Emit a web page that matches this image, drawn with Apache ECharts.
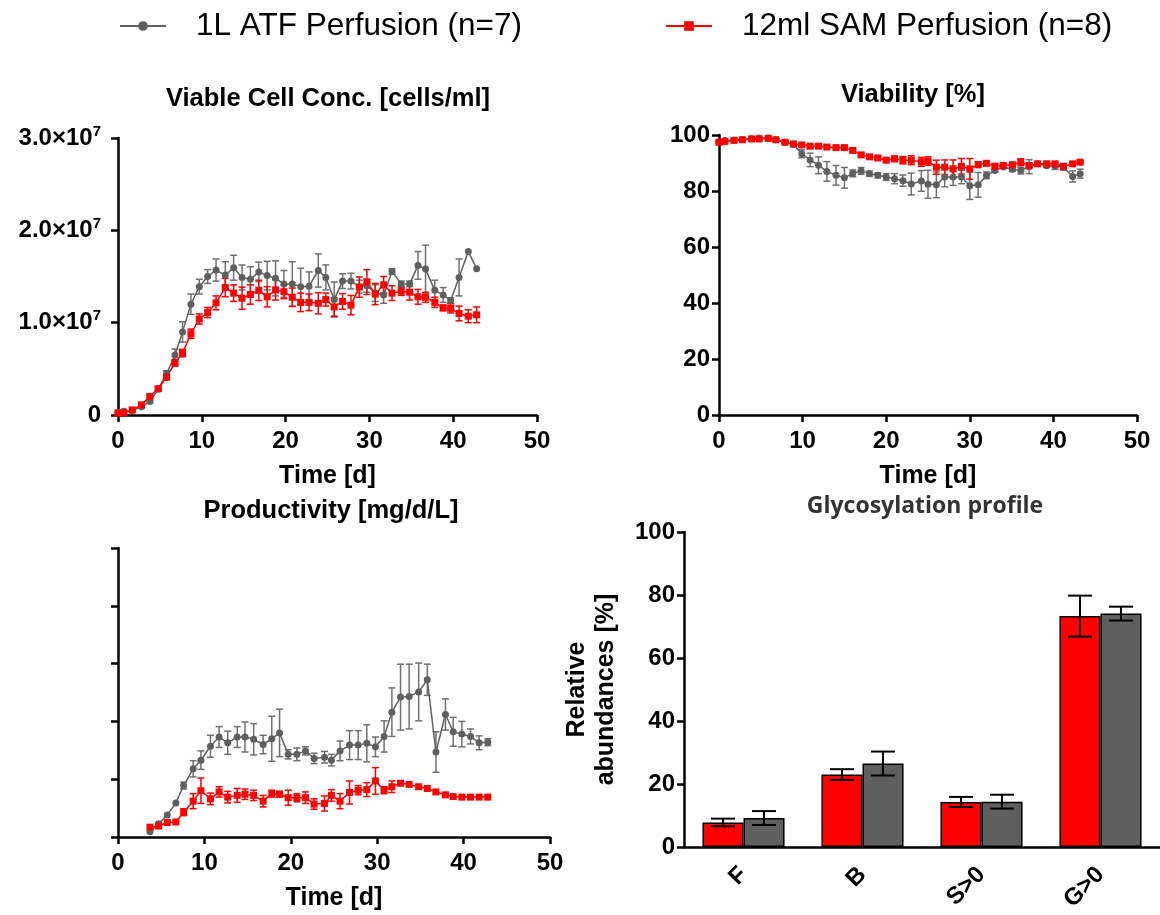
<!DOCTYPE html>
<html lang="en">
<head>
    <meta charset="UTF-8">
    <title>Perfusion comparison</title>
    <script type="text/javascript" src="https://cdn.jsdelivr.net/npm/echarts@6/dist/echarts.min.js"></script>
    <style>
        body { margin: 0; background: #fff; }
    </style>
</head>
<body>
<div id="chartmain" style="width:1160px;height:915px"></div>
<script>
    var nameAtf = '1L ATF Perfusion (n=7)';
    var nameSam = '12ml SAM Perfusion (n=8)';

    // viable cell conc., in 10^6 cells/ml
    var vccDays = [0, 0.7, 1.7, 2.8, 3.8, 4.8, 5.8, 6.8, 7.7, 8.7, 9.7, 10.7, 11.7, 12.8, 13.8, 14.8, 15.8, 16.8, 17.8, 18.8,
        19.8, 20.8, 21.8, 22.8, 23.9, 24.8, 25.8, 26.8, 27.8, 28.8, 29.7, 30.7, 31.7, 32.7, 33.8, 34.8, 35.8, 36.7, 37.8, 38.8,
        39.7, 40.7, 41.8, 42.8];
    var vccAtf = [0.3, 0.4, 0.5, 0.9, 1.45, 2.8, 4.5, 6.5, 9.0, 12.0, 13.9, 15.0, 15.7, 15.15, 15.95, 14.9, 14.7, 15.5, 15.1, 14.8,
        14.2, 14.2, 13.9, 13.95, 15.65, 14.9, 12.5, 14.5, 14.5, 13.9, 14.0, 13.2, 13.0, 15.55, 14.2, 14.2, 16.2, 15.8, 13.5, 13.0,
        12.4, 14.9, 17.7, 15.85];
    var vccAtfSd = [0, 0, 0, 0.1, 0.15, 0.2, 0.3, 0.65, 1.1, 1.1, 0.8, 0.75, 1.2, 1.45, 1.35, 1.35, 1.35, 1.05, 1.55, 1.9,
        1.45, 2.4, 2.0, 1.55, 1.8, 1.35, 1.9, 0.8, 0.85, 0.7, 0.7, 0.9, 0.9, 0.3, 0.3, 0.3, 1.5, 2.6, 1.1, 0.8,
        0.3, 2.0, 0, 0];
    var vccSam = [0.2, 0.25, 0.55, 1.1, 2.0, 2.85, 4.1, 5.65, 6.7, 8.8, 10.4, 11.1, 12.15, 13.8, 13.2, 12.65, 13.05, 13.5, 12.8, 13.55,
        13.35, 12.75, 12.2, 12.2, 12.1, 12.5, 11.7, 12.3, 11.9, 13.85, 14.4, 13.1, 14.1, 13.2, 13.4, 13.3, 12.8, 12.75, 12.2, 11.6,
        11.55, 11.0, 10.7, 10.85];
    var vccSamSd = [0, 0, 0, 0.1, 0.15, 0.2, 0.3, 0.35, 0.4, 0.5, 0.55, 0.55, 0.75, 1.0, 0.9, 1.2, 1.05, 1.1, 1.1, 1.1,
        0.75, 1.0, 1.0, 0.9, 1.15, 0.7, 1.0, 0.85, 1.05, 1.1, 1.35, 1.15, 0.9, 0.8, 0.45, 0.85, 0.8, 0.55, 0.55, 0.3,
        0.5, 0.8, 0.7, 0.85];

    // viability, %
    var viaDays = [0, 0.7, 1.8, 2.8, 3.9, 4.8, 5.9, 6.8, 7.9, 8.9, 9.9, 10.9, 11.9, 12.9, 14, 15, 16, 17, 18, 19,
        20, 21, 22, 23, 24.2, 25, 26, 27, 28, 29, 30, 31, 32, 33, 34, 35.1, 36.1, 37.1, 38.1, 39.2,
        40.2, 41.2, 42.3, 43.2];
    var viaAtf = [97.5, 98.0, 98.1, 98.4, 98.7, 98.9, 98.9, 98.3, 97.4, 96.6, 93.3, 91.1, 89.2, 87.0, 85.6, 84.7, 86.3, 87.2, 86.2, 85.6,
        85.0, 84.4, 83.7, 82.5, 83.6, 82.4, 82.2, 85.0, 85.0, 85.0, 81.9, 82.2, 85.6, 87.3, 88.6, 87.8, 87.3, 88.7, 89.7, 89.0,
        88.9, 88.6, 85.2, 86.2];
    var viaAtfSd = [0.3, 0.3, 0.3, 0.3, 0.3, 0.3, 0.3, 0.3, 0.3, 0.5, 1.4, 2.4, 3.0, 3.5, 3.5, 3.7, 1.2, 1.2, 0.9, 0.9,
        1.2, 1.8, 2.0, 3.9, 3.7, 5.0, 4.6, 3.5, 3.0, 2.4, 4.9, 4.4, 1.2, 0.5, 0.5, 0.8, 1.2, 2.5, 0.7, 0.5,
        1.2, 1.2, 2.0, 1.6];
    var viaSam = [97.4, 97.7, 98.1, 98.3, 98.6, 98.6, 98.8, 98.3, 97.4, 96.8, 96.45, 96.0, 96.0, 95.7, 95.5, 95.5, 94.5, 92.9, 92.2, 91.8,
        91.0, 91.5, 91.0, 91.0, 90.4, 90.7, 88.5, 88.5, 87.9, 88.8, 87.9, 89.4, 89.9, 88.8, 89.1, 89.4, 90.3, 89.1, 89.7, 89.7,
        89.7, 88.8, 89.7, 90.3];
    var viaSamSd = [0.3, 0.3, 0.3, 0.3, 0.3, 0.3, 0.3, 0.3, 0.3, 0.3, 0.5, 0.5, 0.5, 0.5, 0.5, 0.5, 0.5, 0.6, 0.6, 0.6,
        0.6, 1.0, 1.3, 1.6, 1.6, 1.5, 2.5, 2.6, 3.2, 2.8, 3.7, 1.0, 0.8, 1.0, 0.6, 0.6, 1.2, 0.5, 0.4, 0.8,
        0.5, 0.4, 0.3, 0.3];

    // productivity (axis has no tick labels, one unit per tick)
    var prodDays = [3.7, 4.7, 5.7, 6.7, 7.6, 8.7, 9.6, 10.7, 11.7, 12.7, 13.8, 14.7, 15.7, 16.8, 17.8, 18.7, 19.7, 20.7, 21.7, 22.7,
        23.9, 24.7, 25.7, 26.8, 27.8, 28.8, 29.8, 30.8, 31.7, 32.7, 33.7, 34.8, 35.8, 36.8, 37.9, 38.8, 39.8, 40.8, 41.8, 42.8];
    var prodAtf = [0.09, 0.23, 0.38, 0.59, 0.89, 1.18, 1.33, 1.57, 1.73, 1.63, 1.73, 1.73, 1.69, 1.60, 1.70, 1.80, 1.43, 1.43, 1.49, 1.36,
        1.38, 1.33, 1.49, 1.59, 1.59, 1.62, 1.56, 1.74, 2.16, 2.42, 2.43, 2.51, 2.72, 1.47, 2.12, 1.82, 1.78, 1.74, 1.63, 1.64];
    var prodAtfSd = [0, 0, 0, 0, 0.06, 0.14, 0.16, 0.19, 0.18, 0.2, 0.18, 0.26, 0.27, 0.16, 0.39, 0.41, 0.08, 0.11, 0.07, 0.09,
        0.1, 0.1, 0.17, 0.25, 0.25, 0.32, 0.17, 0.27, 0.42, 0.57, 0.56, 0.5, 0.27, 0.35, 0.27, 0.25, 0.22, 0.13, 0.12, 0.06];
    var prodSam = [0.17, 0.19, 0.25, 0.26, 0.43, 0.62, 0.80, 0.66, 0.78, 0.69, 0.72, 0.74, 0.72, 0.62, 0.75, 0.74, 0.68, 0.68, 0.68, 0.57,
        0.58, 0.72, 0.62, 0.77, 0.81, 0.82, 0.97, 0.81, 0.87, 0.93, 0.91, 0.87, 0.84, 0.78, 0.73, 0.70, 0.69, 0.69, 0.69, 0.69];
    var prodSamSd = [0, 0, 0, 0, 0.06, 0.13, 0.22, 0.1, 0.09, 0.1, 0.12, 0.09, 0.09, 0.1, 0.06, 0.05, 0.13, 0.07, 0.1, 0.09,
        0.13, 0.1, 0.13, 0.2, 0.08, 0.12, 0.23, 0.06, 0.1, 0.03, 0, 0, 0, 0, 0, 0, 0, 0, 0, 0];

    // glycosylation profile, %
    var glycoCats = ['F', 'B', 'S>0', 'G>0'];
    var glycoSam = [7.8, 23.0, 14.3, 73.3];
    var glycoSamSd = [1.2, 1.7, 1.6, 6.5];
    var glycoAtf = [9.2, 26.5, 14.4, 74.1];
    var glycoAtfSd = [2.2, 3.8, 2.2, 2.2];

    var grey = '#5f5f5f';
    var red = '#ff0000';
    var font = 'Liberation Sans, Arial, sans-serif';

    function pairs(xs, ys) {
        return xs.map(function (x, i) { return [x, ys[i]]; });
    }
    function triples(xs, ys, es) {
        return xs.map(function (x, i) { return [x, ys[i], es[i]]; });
    }

    function errBars(color, cap) {
        return function (params, api) {
            var x = api.value(0), y = api.value(1), e = api.value(2);
            if (!e) return null;
            var hi = api.coord([x, y + e]);
            var lo = api.coord([x, y - e]);
            var st = {stroke: color, lineWidth: 1.5};
            return {
                type: 'group',
                children: [
                    {type: 'line', shape: {x1: hi[0], y1: hi[1], x2: lo[0], y2: lo[1]}, style: st},
                    {type: 'line', shape: {x1: hi[0] - cap, y1: hi[1], x2: hi[0] + cap, y2: hi[1]}, style: st},
                    {type: 'line', shape: {x1: lo[0] - cap, y1: lo[1], x2: lo[0] + cap, y2: lo[1]}, style: st}
                ]
            };
        };
    }

    function barErr(side) {
        return function (params, api) {
            var c = api.value(0), y = api.value(1), e = api.value(2);
            var band = api.size([1, 0])[0];
            var hi = api.coord([c, y + e]);
            var lo = api.coord([c, y - e]);
            var x = hi[0] + side * band * 0.172;
            var cap = 12;
            var st = {stroke: '#000', lineWidth: 2};
            return {
                type: 'group',
                children: [
                    {type: 'line', shape: {x1: x, y1: hi[1], x2: x, y2: lo[1]}, style: st},
                    {type: 'line', shape: {x1: x - cap, y1: hi[1], x2: x + cap, y2: hi[1]}, style: st},
                    {type: 'line', shape: {x1: x - cap, y1: lo[1], x2: x + cap, y2: lo[1]}, style: st}
                ]
            };
        };
    }

    var axisLine = {lineStyle: {color: '#000', width: 2.5}};
    var axisTick = {length: 7, lineStyle: {color: '#000', width: 2.5}};
    var tickFont = {color: '#000', fontFamily: font, fontWeight: 'bold', fontSize: 24};
    var nameFont = {color: '#000', fontFamily: font, fontWeight: 'bold', fontSize: 25};
    var titleFont = {fontFamily: font, fontWeight: 'bold', fontSize: 25.5, color: '#000'};

    function timeAxis(grid) {
        return {
            gridIndex: grid, type: 'value', min: 0, max: 50, interval: 10,
            axisLine: axisLine, axisTick: axisTick, splitLine: {show: false},
            axisLabel: Object.assign({margin: 14}, tickFont),
            name: 'Time [d]', nameLocation: 'middle', nameGap: 49, nameTextStyle: nameFont
        };
    }

    function lineSeries(name, symbol, color, data, xi) {
        return {
            name: name, type: 'line', xAxisIndex: xi, yAxisIndex: xi, data: data,
            symbol: symbol, symbolSize: 7, z: 3,
            lineStyle: {color: color, width: 1.5}, itemStyle: {color: color}
        };
    }
    function errSeries(color, data, xi) {
        return {
            type: 'custom', xAxisIndex: xi, yAxisIndex: xi, data: data, z: 2,
            encode: {x: 0, y: 1}, renderItem: errBars(color, 3.5), silent: true
        };
    }

    var option = {
        animation: false,
        legend: [
            {
                data: [nameAtf], left: 114, top: 5, itemWidth: 46, itemHeight: 12,
                textStyle: {fontFamily: font, fontSize: 31.5, color: '#000', padding: [0, 0, 0, 25]}
            },
            {
                data: [nameSam], left: 660, top: 5, itemWidth: 46, itemHeight: 12,
                textStyle: {fontFamily: font, fontSize: 31.5, color: '#000', padding: [0, 0, 0, 25]}
            }
        ],
        title: [
            {text: 'Viable Cell Conc. [cells/ml]', left: 323, top: 81, textAlign: 'center', textStyle: titleFont},
            {text: 'Viability [%]', left: 908, top: 77, textAlign: 'center', textStyle: titleFont},
            {text: 'Productivity [mg/d/L]', left: 326, top: 493, textAlign: 'center', textStyle: titleFont},
            {text: 'Glycosylation profile', left: 920, top: 490, textAlign: 'center',
                textStyle: {fontFamily: 'Open Sans, sans-serif', fontWeight: 'bold', fontSize: 23, color: '#333'}}
        ],
        grid: [
            {left: 118, top: 138, width: 419, height: 277},
            {left: 719, top: 135, width: 418, height: 280},
            {left: 118, top: 548, width: 432, height: 289},
            {left: 684, top: 532, width: 476, height: 315}
        ],
        xAxis: [
            timeAxis(0),
            timeAxis(1),
            timeAxis(2),
            {
                gridIndex: 3, type: 'category', data: glycoCats,
                axisLine: axisLine, axisTick: Object.assign({alignWithLabel: true}, axisTick),
                axisLabel: Object.assign({rotate: 45, margin: 24}, tickFont)
            }
        ],
        yAxis: [
            {
                gridIndex: 0, type: 'value', min: 0, max: 30, interval: 10,
                axisLine: {show: true, lineStyle: axisLine.lineStyle}, axisTick: {show: true, length: 7, lineStyle: axisTick.lineStyle},
                splitLine: {show: false},
                axisLabel: {
                    margin: 17,
                    formatter: function (v) {
                        if (v === 0) return '{m|0}';
                        return '{m|' + (v / 10).toFixed(1) + '×10}{s|7}';
                    },
                    rich: {
                        m: {color: '#000', fontFamily: font, fontWeight: 'bold', fontSize: 24, lineHeight: 28},
                        s: {color: '#000', fontFamily: font, fontWeight: 'bold', fontSize: 15, lineHeight: 28, verticalAlign: 'top', padding: [0, 0, 11, 0]}
                    }
                }
            },
            {
                gridIndex: 1, type: 'value', min: 0, max: 100, interval: 20,
                axisLine: {show: true, lineStyle: axisLine.lineStyle}, axisTick: {show: true, length: 7, lineStyle: axisTick.lineStyle},
                splitLine: {show: false}, axisLabel: Object.assign({margin: 9}, tickFont)
            },
            {
                gridIndex: 2, type: 'value', min: 0, max: 5, interval: 1,
                axisLine: {show: true, lineStyle: axisLine.lineStyle}, axisTick: {show: true, length: 7, lineStyle: axisTick.lineStyle},
                splitLine: {show: false}, axisLabel: {show: false}
            },
            {
                gridIndex: 3, type: 'value', min: 0, max: 100, interval: 20,
                axisLine: {show: true, lineStyle: axisLine.lineStyle}, axisTick: {show: true, length: 7, lineStyle: axisTick.lineStyle},
                splitLine: {show: false}, axisLabel: Object.assign({margin: 9}, tickFont),
                name: 'Relative\nabundances [%]', nameLocation: 'middle', nameGap: 63,
                nameTextStyle: Object.assign({lineHeight: 29}, nameFont)
            }
        ],
        series: [
            errSeries('#707070', triples(vccDays, vccAtf, vccAtfSd), 0),
            lineSeries(nameAtf, 'circle', grey, pairs(vccDays, vccAtf), 0),
            errSeries(red, triples(vccDays, vccSam, vccSamSd), 0),
            lineSeries(nameSam, 'rect', red, pairs(vccDays, vccSam), 0),

            errSeries('#707070', triples(viaDays, viaAtf, viaAtfSd), 1),
            lineSeries(nameAtf, 'circle', grey, pairs(viaDays, viaAtf), 1),
            errSeries(red, triples(viaDays, viaSam, viaSamSd), 1),
            lineSeries(nameSam, 'rect', red, pairs(viaDays, viaSam), 1),

            errSeries('#707070', triples(prodDays, prodAtf, prodAtfSd), 2),
            lineSeries(nameAtf, 'circle', grey, pairs(prodDays, prodAtf), 2),
            errSeries(red, triples(prodDays, prodSam, prodSamSd), 2),
            lineSeries(nameSam, 'rect', red, pairs(prodDays, prodSam), 2),

            {
                name: 'SAM glyco', type: 'bar', xAxisIndex: 3, yAxisIndex: 3, data: glycoSam,
                barGap: '0%', barCategoryGap: '31%',
                itemStyle: {color: red, borderColor: '#000', borderWidth: 1.5}
            },
            {
                name: 'ATF glyco', type: 'bar', xAxisIndex: 3, yAxisIndex: 3, data: glycoAtf,
                barGap: '0%', barCategoryGap: '31%',
                itemStyle: {color: grey, borderColor: '#000', borderWidth: 1.5}
            },
            {
                type: 'custom', xAxisIndex: 3, yAxisIndex: 3, z: 4, encode: {x: 0, y: 1},
                data: glycoCats.map(function (c, i) { return [i, glycoSam[i], glycoSamSd[i]]; }),
                renderItem: barErr(-1)
            },
            {
                type: 'custom', xAxisIndex: 3, yAxisIndex: 3, z: 4, encode: {x: 0, y: 1},
                data: glycoCats.map(function (c, i) { return [i, glycoAtf[i], glycoAtfSd[i]]; }),
                renderItem: barErr(1)
            }
        ]
    };

    var myChart = echarts.init(document.getElementById('chartmain'));
    myChart.setOption(option);
</script>
</body>
</html>
